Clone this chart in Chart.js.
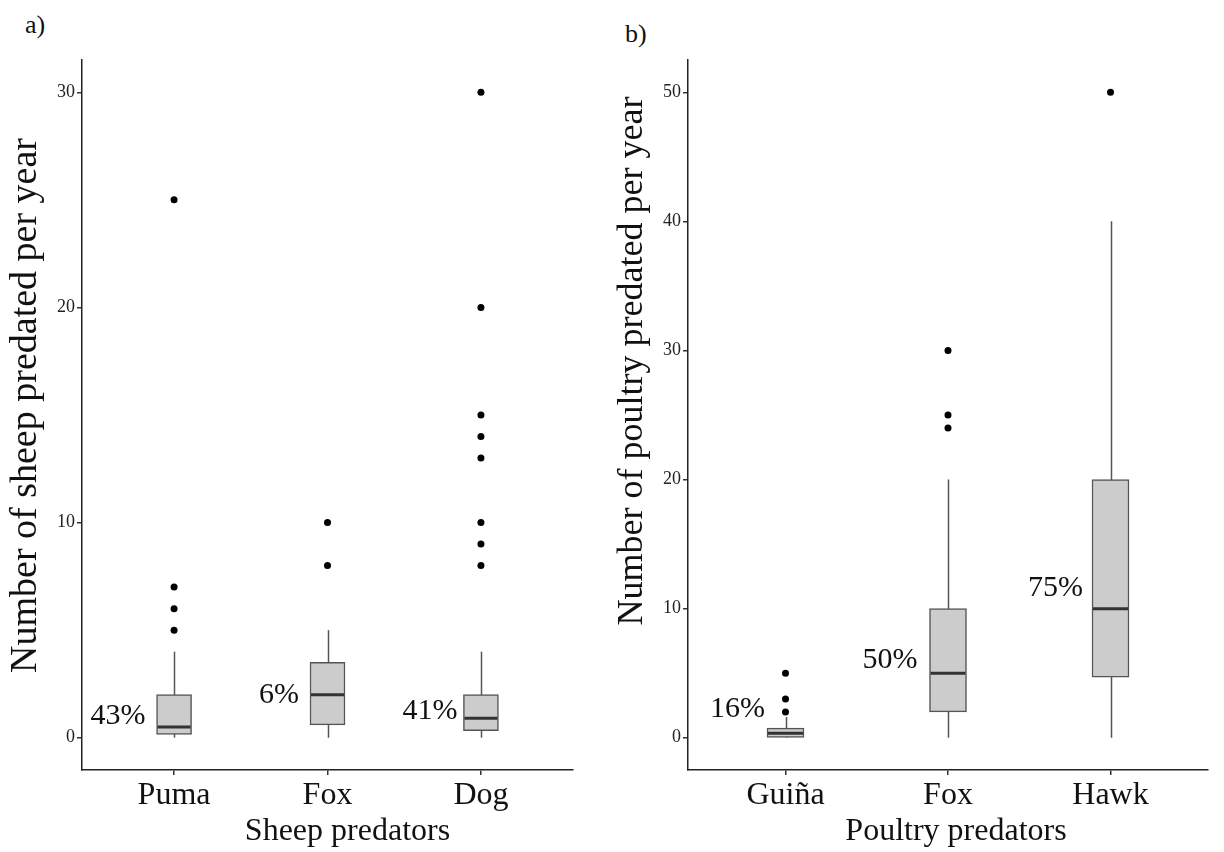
<!DOCTYPE html>
<html>
<head>
<meta charset="utf-8">
<script src="https://cdn.jsdelivr.net/npm/chart.js@4.4.1/dist/chart.umd.min.js"></script>
<style>
  body { margin: 0; background: #fff; }
  #wrap { position: relative; width: 1224px; height: 852px; font-family: 'Liberation Serif', serif; }
  .panel { position: absolute; top: 0; }
  .tag { position: absolute; font-size: 26px; color: #111; line-height: 1; }
</style>
</head>
<body>
<div id="wrap">
  <div class="tag" style="left:25px;top:12px">a)</div>
  <div class="tag" style="left:625px;top:21px">b)</div>
  <canvas id="sheep" class="panel" style="left:0" width="600" height="852"></canvas>
  <canvas id="poultry" class="panel" style="left:600px" width="624" height="852"></canvas>
</div>
<script>
  // sheep losses per predator
  var sheepPredators = ['Puma', 'Fox', 'Dog'];
  var sheepMin = [0, 0, 0];
  var sheepQ1 = [0.15, 0.6, 0.33];
  var sheepMedian = [0.5, 2, 0.9];
  var sheepQ3 = [2, 3.5, 2];
  var sheepMax = [4, 5, 4];
  var sheepOutliers = [[5, 6, 7, 25], [8, 10], [8, 9, 10, 13, 14, 15, 20, 30]];
  var sheepShare = ['43%', '6%', '41%'];
  var sheepTicks = [0, 10, 20, 30];

  // poultry losses per predator
  var poultryPredators = ['Guiña', 'Fox', 'Hawk'];
  var poultryMin = [0, 0, 0];
  var poultryQ1 = [0.03, 2, 4.7];
  var poultryMedian = [0.35, 5, 10];
  var poultryQ3 = [0.75, 10, 20];
  var poultryMax = [1.6, 20, 40];
  var poultryOutliers = [[2, 3, 5], [24, 25, 30], [50]];
  var poultryShare = ['16%', '50%', '75%'];
  var poultryTicks = [0, 10, 20, 30, 40, 50];

  var serif = "'Liberation Serif', 'Times New Roman', serif";

  // pad a title with leading blanks so it sits off the axis centre
  function nudge(text, n) {
    return new Array(n + 1).join(' ') + text;
  }

  // whiskers go under the boxes, medians and share labels over them
  var boxExtras = {
    id: 'boxExtras',
    beforeDatasetsDraw: function(chart, args, opts) {
      var ctx = chart.ctx, x = chart.scales.x, y = chart.scales.y;
      ctx.save();
      ctx.strokeStyle = '#555';
      ctx.lineWidth = 1.5;
      opts.min.forEach(function(lo, i) {
        var px = Math.round(x.getPixelForValue(i + 1)) + 0.5;
        ctx.beginPath();
        ctx.moveTo(px, y.getPixelForValue(lo));
        ctx.lineTo(px, y.getPixelForValue(opts.max[i]));
        ctx.stroke();
      });
      ctx.restore();
    },
    afterDatasetsDraw: function(chart, args, opts) {
      var ctx = chart.ctx, y = chart.scales.y;
      var bars = chart.getDatasetMeta(0).data;
      ctx.save();
      ctx.strokeStyle = '#333';
      ctx.lineWidth = 3;
      bars.forEach(function(bar, i) {
        var py = y.getPixelForValue(opts.median[i]);
        ctx.beginPath();
        ctx.moveTo(bar.x - bar.width / 2 + 1, py);
        ctx.lineTo(bar.x + bar.width / 2 - 1, py);
        ctx.stroke();
      });
      ctx.fillStyle = '#111';
      ctx.font = '30px ' + serif;
      ctx.textAlign = 'right';
      ctx.textBaseline = 'middle';
      bars.forEach(function(bar, i) {
        ctx.fillText(opts.labels[i], bar.x - bar.width / 2 - opts.gap[i], y.getPixelForValue(opts.labelAt[i]));
      });
      ctx.restore();
    }
  };

  function boxChart(id, p) {
    var boxes = p.cats.map(function(c, i) { return {x: i + 1, y: [p.q1[i], p.q3[i]]}; });
    var dots = [];
    p.outliers.forEach(function(list, i) {
      list.forEach(function(v) { dots.push({x: i + 1, y: v}); });
    });

    return new Chart(document.getElementById(id), {
      type: 'bar',
      data: {
        datasets: [
          {
            type: 'bar',
            data: boxes,
            backgroundColor: '#cccccc',
            borderColor: '#555555',
            borderWidth: 1.5,
            borderSkipped: false,
            barThickness: p.boxWidth
          },
          {
            type: 'scatter',
            data: dots,
            pointRadius: 3.5,
            pointBackgroundColor: '#000',
            pointBorderWidth: 0
          }
        ]
      },
      options: {
        responsive: false,
        animation: false,
        devicePixelRatio: 1,
        layout: { padding: p.padding },
        plugins: {
          legend: { display: false },
          tooltip: { enabled: false },
          boxExtras: {
            min: p.min, max: p.max, median: p.median,
            labels: p.share, labelAt: p.shareAt, gap: p.shareGap
          }
        },
        scales: {
          x: {
            type: 'linear',
            min: 0.4,
            max: 3.6,
            offset: false,
            afterBuildTicks: function(s) { s.ticks = [1, 2, 3].map(function(v) { return {value: v}; }); },
            afterFit: function(s) { s.height = 82; },
            ticks: {
              callback: function(v) { return p.cats[v - 1]; },
              font: { family: serif, size: 32 },
              color: '#111',
              padding: 1,
              maxRotation: 0,
              autoSkip: false
            },
            grid: { offset: false, drawOnChartArea: false, tickLength: 5, color: '#333', lineWidth: 1.5 },
            border: { color: '#222', width: 1.5 },
            title: {
              display: true, text: p.xTitle, color: '#111',
              font: { family: serif, size: 32 }, padding: { top: 0, bottom: 1 }
            }
          },
          y: {
            min: p.yMin,
            max: p.yMax,
            afterBuildTicks: function(s) { s.ticks = p.ticks.map(function(v) { return {value: v}; }); },
            afterFit: function(s) { s.width = p.yWidth; },
            ticks: { font: { family: serif, size: 18 }, color: '#222', padding: 2 },
            grid: { drawOnChartArea: false, tickLength: 5, color: '#333', lineWidth: 1.5 },
            border: { color: '#222', width: 1.5 },
            title: {
              display: true, text: p.yTitle, color: '#111',
              font: { family: serif, size: p.yTitleSize }, padding: { top: 0, bottom: 0 }
            }
          }
        }
      },
      plugins: [boxExtras]
    });
  }

  boxChart('sheep', {
    cats: sheepPredators, min: sheepMin, q1: sheepQ1, median: sheepMedian, q3: sheepQ3, max: sheepMax,
    outliers: sheepOutliers, share: sheepShare, shareAt: [1.0, 2.0, 1.25], shareGap: [11, 11, 6],
    ticks: sheepTicks, yMin: -1.5, yMax: 31.5,
    yTitle: nudge('Number of sheep predated per year', 2), yTitleSize: 38,
    xTitle: nudge('Sheep predators', 5),
    boxWidth: 35, yWidth: 79, padding: { left: 3, right: 27, top: 60, bottom: 0 }
  });

  boxChart('poultry', {
    cats: poultryPredators, min: poultryMin, q1: poultryQ1, median: poultryMedian, q3: poultryQ3, max: poultryMax,
    outliers: poultryOutliers, share: poultryShare, shareAt: [2.2, 6.0, 11.6], shareGap: [2, 12, 9],
    ticks: poultryTicks, yMin: -2.5, yMax: 52.5,
    yTitle: nudge('Number of poultry predated per year', 12), yTitleSize: 36,
    xTitle: nudge('Poultry predators', 2),
    boxWidth: 37, yWidth: 77, padding: { left: 11, right: 16, top: 60, bottom: 0 }
  });
</script>
</body>
</html>
